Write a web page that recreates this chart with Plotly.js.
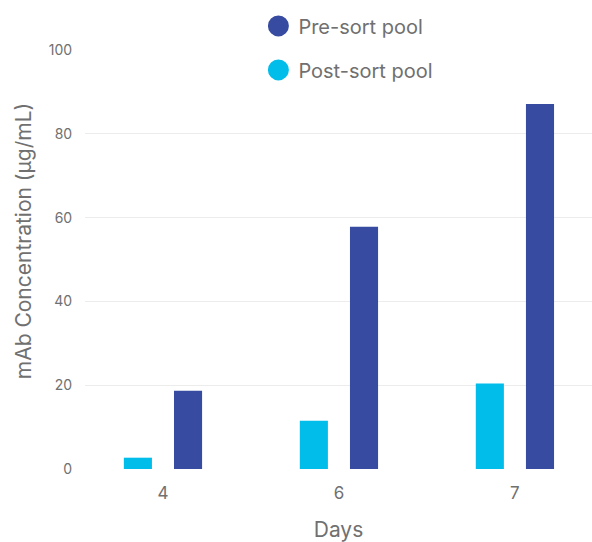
<!DOCTYPE html>
<html><head><meta charset="utf-8">
<script src="https://cdn.plot.ly/plotly-3.0.1.min.js"></script>
<style>html,body{margin:0;padding:0;background:#fff}#chart{width:592px;height:542px}</style>
</head><body><div id="chart"></div>
<script>
const days = ["4", "6", "7"];
const preSort = [18.7, 57.8, 87.1];
const postSort = [2.7, 11.5, 20.4];
const yTicks = [0, 20, 40, 60, 80, 100];
const yTitle = "mAb Concentration (µg/mL)";

const preColor = "#374ba0";
const postColor = "#00bdea";
const textColor = "#707070";

const traces = [
  {type: "bar", x: days, y: postSort, name: "Post-sort pool", marker: {color: postColor}, showlegend: false, hoverinfo: "x+y"},
  {type: "bar", x: days, y: preSort, name: "Pre-sort pool", marker: {color: preColor}, showlegend: false, hoverinfo: "x+y"},
  {type: "scatter", mode: "markers", x: [null], y: [null], name: "Pre-sort pool", legendgroup: "a", marker: {color: preColor, size: 16, line: {color: preColor, width: 5}}},
  {type: "scatter", mode: "markers", x: [null], y: [null], name: "Post-sort pool", legendgroup: "b", marker: {color: postColor, size: 16, line: {color: postColor, width: 5}}}
];

const layout = {
  width: 592, height: 542,
  margin: {l: 85, r: 0, t: 50, b: 73},
  paper_bgcolor: "#fff", plot_bgcolor: "#fff",
  font: {family: "Inter, 'Noto Sans', sans-serif", color: textColor},
  barmode: "group", bargap: 0.43, bargroupgap: 0.44,
  showlegend: true,
  legend: {x: 0.342, y: 1.104, xanchor: "left", yanchor: "top", orientation: "v",
           font: {size: 20, color: textColor}, tracegroupgap: 15, bgcolor: "rgba(0,0,0,0)"},
  xaxis: {type: "category", range: [-0.443, 2.438], showgrid: false, zeroline: false, showline: false,
          ticks: "", tickfont: {size: 17, color: textColor}, ticklabelstandoff: 12,
          title: {text: "Days", font: {size: 21, color: textColor}, standoff: 20}},
  yaxis: {range: [0, 100], tickvals: yTicks, ticktext: yTicks.map(String), showgrid: true, gridcolor: "#ececec", gridwidth: 1,
          zeroline: false, showline: false, ticks: "outside", ticklen: 9, tickcolor: "rgba(0,0,0,0)",
          tickfont: {size: 14, color: textColor}},
  annotations: [{text: yTitle, xref: "paper", yref: "paper", x: -0.122, y: 0.544, xanchor: "center", yanchor: "middle",
                 textangle: -90, showarrow: false, font: {size: 21, color: textColor}}]
};

Plotly.newPlot("chart", traces, layout, {displayModeBar: false, staticPlot: true});
</script></body></html>
